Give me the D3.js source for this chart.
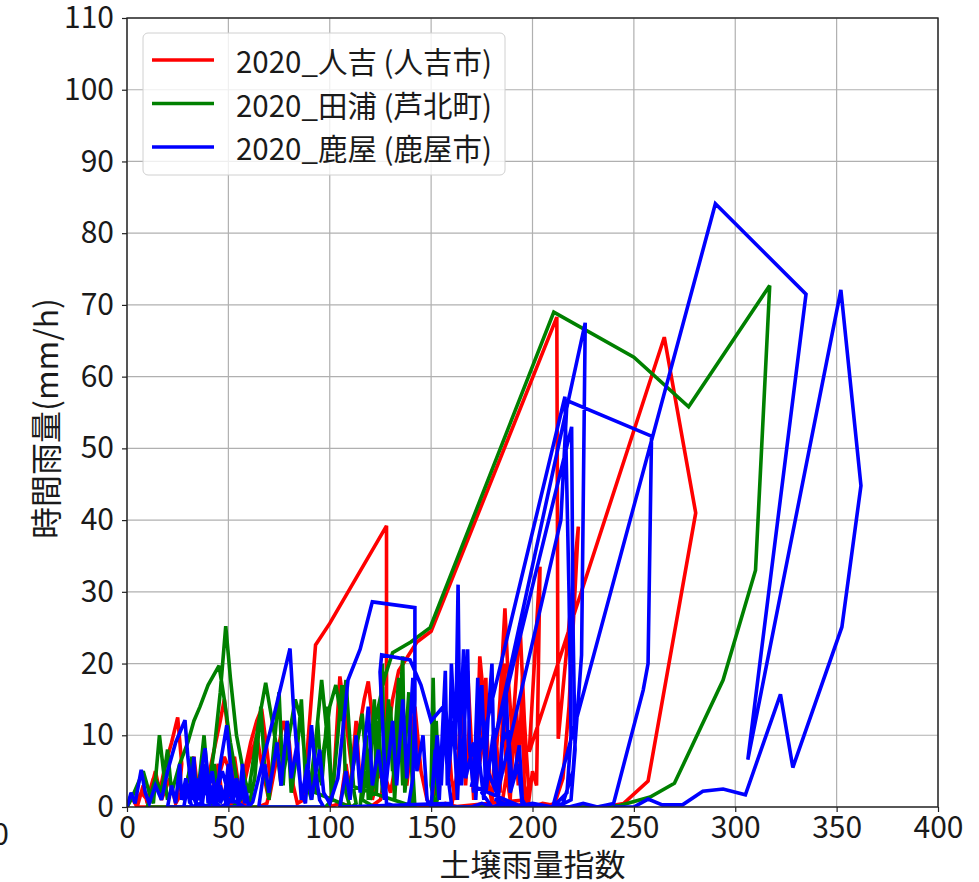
<!DOCTYPE html>
<html>
<head>
<meta charset="utf-8">
<script src="https://cdn.jsdelivr.net/npm/d3@7"></script>
<style>
body{margin:0;background:#fff}
text{font-family:"Noto Sans CJK JP","Noto Sans",sans-serif;fill:#1a1a1a}
</style>
</head>
<body>
<div id="chart"></div>
<script>
const width=979
const height=882

const xTicks=[0,50,100,150,200,250,300,350,400]
const yTicks=[0,10,20,30,40,50,60,70,80,90,100,110]
const seriesNames=["2020_人吉 (人吉市)","2020_田浦 (芦北町)","2020_鹿屋 (鹿屋市)"]
const seriesColors=["#ff0000","#008000","#0000ff"]

// 人吉 [土壌雨量指数, 時間雨量]
const hitoyoshi=[
[0,0],[2,1.5],[4,0.5],[7,2],[10,1],[13,4],[16,2],[19,6],[22,9],[25,12.5],[27,6],[26,3],[24,1],[28,2],[31,5],[34,3],[37,1],[40,4],[43,8],[46,12],[48,15],[50,10],[52,5],[55,2],[58,5],[61,9],[64,12],[66.4,13.7],[69,8],[71,3],[69,0.5],[65,0],[60,0],[55,0],[50,0.5],[46,0],[42,0],
[5,0],[8,3],[10,0.5],[14,5],[17,1],[21,4],[24,0.5],[29,3],[33,7],[35,2],[38,5],[41,1],[45,6],[47,1],[53,7],[56,1],[59,0],[55,0],
[44,3],[48,7],[52,4],[56,1],[60,6],[64,10],[67,5],[70,1],[74,7],[77,12],[80,9],[82,3],[84,0.5],[87,1],[93,22.6],[100,25.6],[128,39.2],[128,15],[127.5,5],[125,1],[120,0],[112,0],[105,0.5],[100,0],
[102,4],[105,18.2],[108,12],[111,5],[114,10],[117,15],[119,17.5],[122,10],[125,4],[128,9],[131,15],[134,19],[143,23],[150,24.5],[212,68.3],[212.5,20],[212.7,9.5],[222.6,39.1],[218,14],[215,4],[211,0.5],[205,0],[200,0],[195,0],[190,0.5],[185,0],[178,0],[170,0],[163,0],[157,0.5],[152,0],
[105,0],[108,6],[110,2],[113,12],[115,3],[118,8],[121,1],[125,6],[130,2],[135,10],[138,3],[142,14],[145,5],[148,1],[150,0],
[155,6],[158,12],[160,4],[162,1],[165,10],[168,19],[170,8],[172,2],[174,21],[177,12],[179,4],[181,3],[184,15],[186.4,27.7],[188,18],[190,10],[193.8,25.6],[196,12],[198,3],[196,0.5],[190,0],[185,0.5],[188,6],[192,14],[194,4],[197,1],
[160,0],[163,5],[165,15],[167,3],[169,12],[171,1],[175,8],[177,18],[178,4],[180,0.5],[182,10],[184,2],[186,20],[187,5],[189,1],[191,12],[193,3],[195,18],[196,2],[198,0.5],[200,5],[202,3],
[203.7,33.5],[198.4,7.7],[265,65.5],[280.5,41],[257,3.6],[245,0.5],[235,0],[225,0],[215,0],[205,0.5],[200,0]
]

// 田浦
const taura=[
[0,0],[2,1],[5,3],[8,5],[11,2],[13,0.5],[16,10],[18,5],[20,1],[23,3],[26,6],[30,9],[33,12],[36,14],[40,17],[45.4,19.7],[48,15],[51,9],[54,4],[56,1],[52,0],[47,0],[42,0.5],[38,0],
[10,0],[14,4],[17,2],[20,8],[22,2],[25,5],[28,1],[32,7],[35,2],[38,10],[40,3],[43,6],[45,1],[42,0],
[40,2],[43,8],[46,16],[48.7,25.2],[51,18],[54,10],[55.7,7.5],[58,4],[60,2],[62,6],[65,12],[68.4,17.3],[71,13],[74,8],[76,3],[78,6],[80,10],[83,15],[86,12],[88,6],[90,2],[93,9],[96,17.7],[98,12],[100,6],[101,1],[98,0],[94,0],[90,0],
[60,0],[63,4],[66,14],[68,5],[70,1],[73,10],[75,16],[77,3],[79,12],[81,2],[84,8],[86,15],[88,4],[91,1],[94,12],[96,3],[99,14],[101,1],[104,10],[106,17],[108,2],[110,0],
[93,2],[97,8],[100,14],[103,17],[106,12],[108,17.7],[110,9],[112,2],[113,0.5],[111,0],[107,0],
[115,0],[118,10],[119,1],[122,15],[123,2],[126,20],[127,1],[130,14],[132,1],[136,21],[137,2],[140,10],[142,0],
[110,3],[113,8],[116,13],[118,6],[120,1],[122,4],[124,12],[126,2],[129,15],[131,5],[134,18],[136,3],[139,16],[141,1],[138,0],[130,0],[122,0],[116,1],[120,8],[124,14],[127,18],[131,21.5],[140,23],[149.5,25],[210.5,69],[250,62.7],[277,55.8],[317,72.7],[310,33],[294,17.7],[270,3.3],[258,1.4],[243,0.2],[230,0],[215,0],[200,0],[185,0],[170,0],[160,0],[152,0],
[150,3],[151,18],[152,5],[153,1],[152.5,12],[154,2],[152,0]
]

// 鹿屋
const kanoya=[
[0,0],[2,2],[4,0.5],[7,5.2],[9,2],[11,0.5],[14,3],[17,1],[20,5],[24,9],[28.6,12.1],[30,7],[32,2],[34,0.5],[36,4],[38.5,8.2],[40,4],[42,1],[44,0.5],[46,6],[49.2,11.4],[51,6],[53,2],[50,0.5],[46,0],[42,1],[40,0],[36,0.5],[32,0],[30,2],[33,5],[35,1],[38,3],[41,0.5],[44,2],[47,5],[49,3],[52,1],[55,0.5],[58,0],
[20,0],[22,3],[24,0.5],[26,6],[27,1],[29,4],[31,0.5],[33,7],[34,1],[36,2],[37,0],[39,5],[40,0.5],[42,3],[43,0],[45,4],[46,0.5],[48,2],[49,0],[51,5],[52,0.5],[54,3],[55,0],[57,6],[58,0.5],[59,2],[60,0],
[28,0],[30,3],[32,1],[34,4],[36,1],[38,6],[40,2],[42,5],[44,1],[46,3],[48,1],[50,6],[52,1],[54,4],[56,1],[58,3],[60,0],
[62,0.7],[71,11],[80.4,22.1],[82,14.4],[84,7],[86,2],[88,0.5],[91,11.4],[93,5],[95,1],[97,0],
[65,0],[68,6],[70,2],[74,9],[76,3],[79,12],[81,4],[84,9],[86,1],[89,6],[91,1],[95,8],[97,2],[100,0.5],[104,4],[109,17.7],[115,22],[121,28.6],[142,27.8],[142,15],[141,4],[139,0.5],[134,0],[128,0.5],[124.8,18.8],[125.6,21.2],[139.6,20.5],[145,17],[150,12],[156,14],[158,5],[160,0.5],
[105,0],[108,5],[110,1],[113,10],[115,2],[119,14],[121,3],[124,8],[127,1],[131,12],[133,3],[136,15],[138,4],[141,18],[143,5],[146,10],[148,1],[150,0],
[153,10],[155,3],[157,15],[159,6],[160,20],[162,8],[163.3,31],[164,12],[165,3],[167,15],[168,22],[169,8],[171,2],[173,18],[174,6],[176,1],[178,12],[180,20],[181,5],[183,1],[185,9],[188,10.7],[190,3],[193.5,8.6],[195,1],[197,0],[192,0],[186,0.5],[180,0],[175,0.5],[170,0],[165,0],
[150,0],[152,8],[154,1],[157,19],[158,3],[161,12],[163,1],[166,22],[167,4],[171,9],[172,1],[175,17],[177,2],[181,11],[183,0.5],[187,16],[189,2],[193,6],[195,0],
[170,3],[216,57.2],[218,30],[219,10],[217,2],[210,0],[200,0.5],[190,0],[180,0],[175,2],[219.3,53],[220,25],[221,8],[219,1],[212,0],[200,0],[185,0],[178,5],[226,67.5],[224.2,21.2],[220,5],[215,0.5],[210,0],[200,0],[190,0],[182,1],[214,40],[217,56.5],[218.5,56.5],[258.7,51.7],[257,20],[254.6,16.3],[240,0.5],[232,0],[225,0.5],[218,0],[210,0],
[290.2,84.1],[334.9,71.5],[306.2,6.6],[352.1,72.1],[362,44.8],[352.6,25.1],[328.4,5.5],[322.3,15.7],[305,1.7],[294,2.5],[284,2.2],[274,0.3],[264,0.3],[257,1.1],[250,0],[240,0]
]

const seriesData=[hitoyoshi,taura,kanoya]

const margin={left:127,right:41,top:18,bottom:75}

const svg=d3.select("#chart")
.append("svg")
.attr("width",width)
.attr("height",height)

const x=d3.scaleLinear().domain([0,400]).range([margin.left,width-margin.right])
const y=d3.scaleLinear().domain([0,110]).range([height-margin.bottom,margin.top])

// grid
svg.append("g")
.selectAll("line")
.data(xTicks)
.enter()
.append("line")
.attr("x1",d=>x(d)).attr("x2",d=>x(d))
.attr("y1",y(0)).attr("y2",y(110))
.attr("stroke","#b0b0b0")
.attr("stroke-width",1.2)

svg.append("g")
.selectAll("line")
.data(yTicks)
.enter()
.append("line")
.attr("x1",x(0)).attr("x2",x(400))
.attr("y1",d=>y(d)).attr("y2",d=>y(d))
.attr("stroke","#b0b0b0")
.attr("stroke-width",1.2)

svg.append("clipPath")
.attr("id","plotclip")
.append("rect")
.attr("x",x(0)).attr("y",y(110))
.attr("width",x(400)-x(0)).attr("height",y(0)-y(110))

const line=d3.line().x(d=>x(d[0])).y(d=>y(d[1]))

svg.append("g")
.attr("clip-path","url(#plotclip)")
.selectAll("path")
.data(seriesData)
.enter()
.append("path")
.attr("d",line)
.attr("fill","none")
.attr("stroke",(d,i)=>seriesColors[i])
.attr("stroke-width",3.6)
.attr("stroke-linejoin","miter")
.attr("stroke-miterlimit",3)

// axes
svg.append("g")
.attr("transform",`translate(0,${y(0)})`)
.call(d3.axisBottom(x).tickValues(xTicks).tickSize(5).tickPadding(5).tickFormat(d3.format("d")))

svg.append("g")
.attr("transform",`translate(${x(0)},0)`)
.call(d3.axisLeft(y).tickValues(yTicks).tickSize(5).tickPadding(8).tickFormat(d3.format("d")))

svg.selectAll(".domain").remove()
svg.selectAll(".tick line").attr("stroke","#222").attr("stroke-width",1.2)
svg.selectAll(".tick text").attr("font-size",30).attr("fill","#1a1a1a")
.attr("font-family",'"Noto Sans CJK JP","Noto Sans",sans-serif')

svg.append("rect")
.attr("x",x(0)).attr("y",y(110))
.attr("width",x(400)-x(0)).attr("height",y(0)-y(110))
.attr("fill","none")
.attr("stroke","#222")
.attr("stroke-width",1.4)

// axis labels
svg.append("text")
.attr("x",(x(0)+x(400))/2)
.attr("y",862)
.attr("text-anchor","middle")
.attr("dominant-baseline","central")
.attr("font-size",31)
.text("土壌雨量指数")

svg.append("text")
.attr("transform",`translate(44,${(y(0)+y(110))/2+6}) rotate(-90)`)
.attr("text-anchor","middle")
.attr("dominant-baseline","central")
.attr("font-size",32)
.text("時間雨量(mm/h)")

// stray label cut off at the left edge
svg.append("text")
.attr("x",9)
.attr("y",832)
.attr("text-anchor","end")
.attr("dominant-baseline","central")
.attr("font-size",30)
.text("0")

// legend
const legend=svg.append("g")

legend.append("rect")
.attr("x",143).attr("y",33)
.attr("width",362).attr("height",142)
.attr("rx",5)
.attr("fill","#fff").attr("fill-opacity",0.8)
.attr("stroke","#d0d0d0")

const items=legend.selectAll("g")
.data(seriesNames)
.enter()
.append("g")
.attr("transform",(d,i)=>`translate(0,${60+i*43.5})`)

items.append("line")
.attr("x1",152).attr("x2",214)
.attr("stroke",(d,i)=>seriesColors[i])
.attr("stroke-width",3.6)

items.append("text")
.attr("x",236)
.attr("dominant-baseline","central")
.attr("font-size",29.5)
.text(d=>d)
</script>
</body>
</html>
